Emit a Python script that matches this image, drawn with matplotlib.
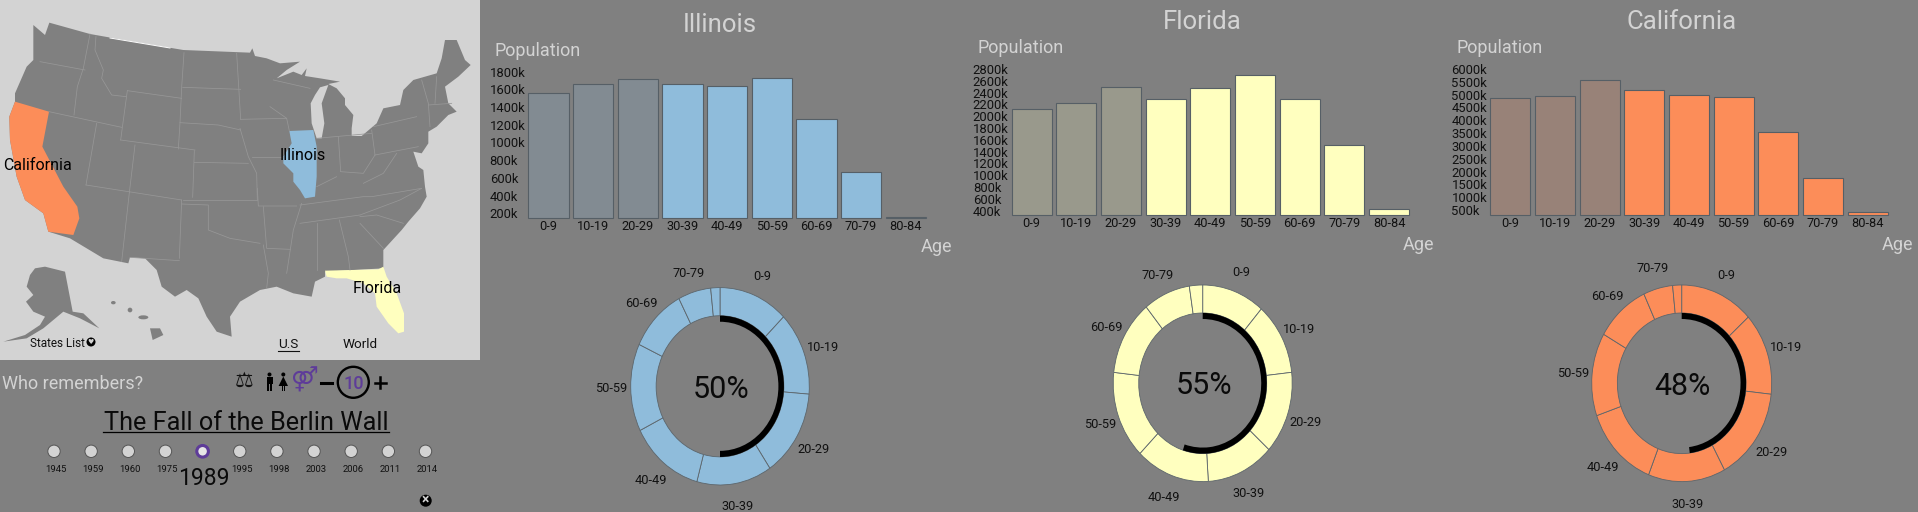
#!/usr/bin/env python3
"""Who remembers? dashboard: US map, age bars and memory donuts for three states."""

import matplotlib
matplotlib.use("Agg")
import matplotlib.pyplot as plt
from matplotlib.patches import Circle, Ellipse, Polygon, Rectangle

W, H = 1918, 512
BG = "#808080"
LIGHT = "#d3d3d3"
PURPLE = "#5e3c99"
MID = "center_baseline"

plt.rcParams["font.family"] = ["Roboto", "DejaVu Sans"]

# ── Data ───────────────────────────────────────────────────────────────────
age_groups = ["0-9", "10-19", "20-29", "30-39", "40-49", "50-59", "60-69", "70-79", "80-84"]
ring_labels = age_groups[:-1]

illinois_pop = [1556, 1658, 1722, 1665, 1642, 1733, 1270, 663, 162]
florida_pop = [2129, 2230, 2502, 2293, 2485, 2699, 2298, 1507, 423]
california_pop = [4882, 4934, 5585, 5168, 4973, 4921, 3543, 1761, 409]

illinois_ticks = [200, 400, 600, 800, 1000, 1200, 1400, 1600, 1800]
florida_ticks = [400, 600, 800, 1000, 1200, 1400, 1600, 1800, 2000, 2200, 2400, 2600, 2800]
california_ticks = [500, 1000, 1500, 2000, 2500, 3000, 3500, 4000, 4500, 5000, 5500, 6000]

illinois_ring = [45.4, 49.3, 51.6, 49.0, 48.5, 51.7, 37.6, 21.4, 6.0]
florida_ring = [40.9, 42.7, 48.8, 44.0, 48.1, 51.9, 44.5, 30.5, 8.6]
california_ring = [47.7, 48.7, 55.3, 49.9, 49.2, 49.1, 35.3, 19.0, 5.8]

remember_pct = [50, 55, 48]
years = [1945, 1959, 1960, 1975, 1989, 1995, 1998, 2003, 2006, 2011, 2014]
selected_year = 1989

# ── Map outlines, traced at 3x ─────────────────────────────────────────────
us_outline = [(148,68),(270,102),(400,125),(550,150),(750,158),(757,145),(765,168),(800,175),(840,190),
    (900,185),(860,210),(830,235),(880,215),(905,225),(920,205),(915,228),(960,235),(1020,245),(985,252),
    (1010,265),(1035,295),(1035,315),(1060,345),(1055,385),(1055,408),(1085,408),(1130,370),(1150,325),
    (1200,315),(1210,270),(1240,240),(1310,220),(1325,175),(1335,120),(1370,120),(1395,180),(1412,195),
    (1375,230),(1335,260),(1345,310),(1370,335),(1345,345),(1310,380),(1285,395),(1285,430),(1265,460),
    (1240,455),(1255,500),(1270,510),(1275,560),(1280,590),(1260,625),(1225,665),(1205,690),(1150,750),
    (1150,805),(975,815),(975,830),(945,845),(935,890),(880,880),(830,860),(780,870),(720,905),(690,950),
    (695,1010),(650,995),(620,950),(595,895),(560,870),(525,890),(485,860),(470,810),(435,775),(390,772),
    (385,790),(310,775),(210,715),(145,695),(130,640),(75,600),(50,530),(30,420),(28,350),(45,305),
    (45,280),(80,200),(100,180),(100,75),(135,105)]
lake_michigan = [(945,285),(932,310),(935,370),(950,415),(965,415),(973,370),(965,310),(985,255),(960,262)]
illinois_shape = [(868,393),(940,390),(950,440),(950,530),(945,590),(915,595),(900,570),(880,545),(880,520),
    (850,490),(850,470),(875,430)]
california_shape = [(45,305),(147,335),(127,440),(190,560),(232,620),(238,655),(220,705),(145,695),(130,640),
    (75,600),(50,530),(30,420),(28,350)]
florida_shape = [(975,812),(1135,808),(1150,800),(1160,830),(1190,880),(1212,940),(1212,995),(1195,1000),
    (1165,970),(1130,920),(1125,880),(1090,850),(1040,835),(1010,835),(980,830)]
alaska_shape = [(105,805),(135,800),(195,815),(218,935),(250,940),(298,985),(240,955),(190,935),(160,960),
    (130,985),(80,1015),(10,1025),(75,1005),(120,975),(135,950),(100,935),(78,905),(100,885),(80,860),(90,825)]
hawaii_shape = [(450,985),(480,985),(490,1005),(458,1020)]
hawaii_small = [(340,908,14,10),(390,930,14,14),(430,952,30,12)]
state_borders = [
    [(120,185),(255,210)], [(270,102),(250,205),(232,260),(222,345)], [(147,335),(365,382)],
    [(288,108),(285,150),(310,210),(305,235),(335,285),(378,290)], [(382,272),(545,295)],
    [(552,158),(545,262),(540,368),(535,447)], [(548,262),(722,268)], [(540,368),(655,375),(722,390)],
    [(382,272),(362,420)], [(362,420),(585,450)], [(405,435),(388,578)], [(583,452),(578,592)],
    [(583,487),(745,490)], [(290,370),(258,555)], [(258,555),(545,600)], [(388,578),(365,785)],
    [(545,600),(538,775)], [(390,772),(538,782)], [(545,612),(625,615),(625,690),(690,715),(780,730)],
    [(548,600),(772,600)], [(722,358),(860,355)], [(710,160),(722,358)], [(755,470),(850,470)],
    [(772,565),(775,618),(890,618)], [(720,385),(745,470),(770,520),(772,600)],
    [(790,620),(800,745),(870,748)], [(790,735),(805,820),(800,865)], [(950,670),(950,810)],
    [(1018,660),(1045,770),(1050,810)], [(900,615),(1090,590),(1115,590),(1265,565)],
    [(1015,410),(1022,515)], [(950,415),(1115,400)], [(1120,380),(1250,350)], [(1125,465),(1255,440)],
    [(1115,390),(1125,465)], [(1265,240),(1285,310),(1290,380)], [(1285,315),(1355,310)],
    [(900,670),(1080,645),(1200,600),(1265,565)], [(1080,650),(1130,645),(1210,670)],
    [(1080,670),(1150,745)], [(810,320),(860,355),(868,393)], [(820,240),(930,265)],
    [(1310,230),(1305,310)], [(1022,515),(1090,520),(1125,465)], [(905,610),(880,690),(860,820)],
    [(1090,550),(1150,520),(1190,460)], [(950,560),(1010,530)],
]


def px(points):
    return [(x / 3, y / 3) for x, y in points]


def add_px_axes(x0, y0, x1, y1):
    ax = fig.add_axes([x0 / W, 1 - y1 / H, (x1 - x0) / W, (y1 - y0) / H])
    ax.patch.set_alpha(0)
    return ax


fig = plt.figure(figsize=(W / 100, H / 100), dpi=100, facecolor=BG)
page = add_px_axes(0, 0, W, H)
page.set_xlim(0, W)
page.set_ylim(H, 0)
page.axis("off")

# ── Map panel ──────────────────────────────────────────────────────────────
page.add_patch(Rectangle((0, 0), 480, 359.5, facecolor=LIGHT, edgecolor="none"))
page.add_patch(Polygon(px(us_outline), facecolor=BG, edgecolor="none"))
page.add_patch(Polygon(px(lake_michigan), facecolor=LIGHT, edgecolor="none"))
page.add_patch(Polygon(px(alaska_shape), facecolor=BG, edgecolor="none"))
page.add_patch(Polygon(px(hawaii_shape), facecolor=BG, edgecolor="none"))
for x, y, w, h in hawaii_small:
    page.add_patch(Ellipse((x / 3, y / 3), w / 3, h / 3, facecolor=BG, edgecolor="none"))
for line in state_borders:
    xs, ys = zip(*px(line))
    page.plot(xs, ys, color="#979797", lw=0.55)
page.plot([110, 170], [38, 48], color="white", lw=0.7)
page.add_patch(Polygon(px(illinois_shape), facecolor="#8fbcdb", edgecolor="none"))
page.add_patch(Polygon(px(california_shape), facecolor="#fc8d59", edgecolor="none"))
page.add_patch(Polygon(px(florida_shape), facecolor="#ffffbf", edgecolor="none"))

page.text(3, 164, "California", fontsize=11.5, color="black", va=MID)
page.text(303, 154, "Illinois", fontsize=11.5, color="black", va=MID, ha="center")
page.text(377, 287, "Florida", fontsize=11.5, color="black", va=MID, ha="center")
page.text(30, 342, "States List", fontsize=8.5, color="#111111", va=MID)
page.add_patch(Circle((91, 342), 4.5, facecolor="black", edgecolor="none"))
page.text(91, 342, "♥", fontsize=5, color="#d3d3d3", ha="center", va="center", family="DejaVu Sans")
page.text(288, 343, "U.S", fontsize=9.7, color="#111111", ha="center", va=MID)
page.plot([277.5, 299], [351, 351], color="#111111", lw=0.8)
page.text(360, 343, "World", fontsize=9.7, color="#111111", ha="center", va=MID)

# ── Controls and timeline ──────────────────────────────────────────────────
page.text(2.5, 382, "Who remembers?", fontsize=13, color=LIGHT, va=MID)
page.text(244, 381, "⚖", fontsize=15, color="#111111", ha="center", va="center", family="DejaVu Sans")
# man and woman pictograms
page.add_patch(Circle((269.5, 374.5), 2, facecolor="black", edgecolor="none"))
page.add_patch(Rectangle((266.5, 377), 6, 7, facecolor="black", edgecolor="none"))
page.add_patch(Rectangle((267.3, 384), 1.9, 6.5, facecolor="black", edgecolor="none"))
page.add_patch(Rectangle((270, 384), 1.9, 6.5, facecolor="black", edgecolor="none"))
page.add_patch(Circle((283.3, 374.5), 2, facecolor="black", edgecolor="none"))
page.add_patch(Polygon([(283.3, 376.5), (288, 386), (278.6, 386)], facecolor="black", edgecolor="none"))
page.add_patch(Rectangle((281.5, 386), 1.4, 4.5, facecolor="black", edgecolor="none"))
page.add_patch(Rectangle((283.8, 386), 1.4, 4.5, facecolor="black", edgecolor="none"))
page.text(304.7, 380, "⚤", fontsize=17, color=PURPLE, ha="center", va="center", family="DejaVu Sans")
page.plot([321, 332], [382.5, 382.5], color="black", lw=2.2)
page.add_patch(Circle((353.3, 382.3), 15.5, facecolor="none", edgecolor="black", lw=1.7))
page.text(353.3, 382.3, "10", fontsize=13, color=PURPLE, ha="center", va=MID, fontweight="medium")
page.plot([375, 385.5], [382.5, 382.5], color="black", lw=1.8)
page.plot([380.2, 380.2], [377, 388], color="black", lw=1.8)

page.text(246, 420, "The Fall of the Berlin Wall", fontsize=18.2, color="#0a0a0a", ha="center", va=MID)
page.plot([103, 389], [432.3, 432.3], color="black", lw=0.9)

for i, year in enumerate(years):
    x = 54 + 37.15 * i
    if year == selected_year:
        page.add_patch(Circle((x, 451.3), 5.8, facecolor="#e6e6e6", edgecolor=PURPLE, lw=2.2, zorder=3))
        page.text(204, 476, str(year), fontsize=16.5, color="#0a0a0a", ha="center", va=MID, zorder=4)
    else:
        page.add_patch(Circle((x, 451.3), 6.2, facecolor=LIGHT, edgecolor="#555555", lw=0.7, zorder=3))
        page.text(x + 1.8, 469, str(year), fontsize=6.8, color="#111111", ha="center", va=MID)
page.add_patch(Circle((425.7, 500.7), 6, facecolor="black", edgecolor="none"))
page.text(425.7, 500.5, "×", fontsize=10, color=LIGHT, ha="center", va="center", fontweight="bold")


# ── State panels ───────────────────────────────────────────────────────────
def draw_bars(box, ylims, pop, ticks, colour):
    ax = add_px_axes(*box)
    bar_colours = [matplotlib.colors.to_rgba(colour, 0.2 if i < 3 else 1) for i in range(len(pop))]
    ax.bar(range(len(pop)), [p - ylims[0] for p in pop], width=0.9, bottom=ylims[0],
           color=bar_colours, edgecolor="#565f66", linewidth=0.8, clip_on=False)
    ax.set_xlim(-0.5, 8.5)
    ax.set_ylim(*ylims)
    for side in ax.spines.values():
        side.set_visible(False)
    ax.set_xticks(range(len(pop)), age_groups, fontsize=9.2, color="#111111")
    ax.set_yticks(ticks, [f"{t}k" for t in ticks], fontsize=9.4, color="#111111", ha="left")
    ax.tick_params(axis="x", length=0, pad=1.5)
    ax.tick_params(axis="y", length=0, pad=26.3)
    return ax


def draw_ring(cx, cy, rx, ry, ring, pct, colour, label_xy, pct_xy, off):
    ax = add_px_axes(cx - rx, cy - ry, cx + rx, cy + ry)
    ax.pie(ring, colors=[colour] * len(ring), startangle=90, counterclock=False, radius=1,
           wedgeprops=dict(width=0.285, edgecolor="#5d666c", linewidth=0.6))
    ax.pie([pct, 100 - pct], colors=["black", "none"], startangle=90, counterclock=False, radius=0.716,
           wedgeprops=dict(width=0.062, edgecolor="none"))
    ax.set_aspect("auto")
    ax.set_xlim(-1, 1)
    ax.set_ylim(-1, 1)
    for name, (x, y) in zip(ring_labels, label_xy):
        page.text(off + x / 3, 250 + y / 3, name, fontsize=9.2, color="#111111", ha="center", va=MID)
    page.text(off + pct_xy[0] / 3, 250 + pct_xy[1] / 3, f"{pct}%", fontsize=22, color="#0a0a0a",
              ha="center", va=MID, zorder=5)


illinois_labels = [(548,76),(728,287),(700,594),(472,765),(212,686),(93,412),(185,156),(325,65)]
florida_labels = [(543,62),(718,233),(738,512),(567,725),(312,738),(122,520),(140,228),(292,72)]
california_labels = [(558,72),(737,287),(696,603),(443,760),(188,647),(100,366),(203,134),(338,52)]

draw_bars((526.2, 60, 928.1, 218.3), (143, 1932), illinois_pop, illinois_ticks, "#8fbcdb")
draw_bars((1009.3, 60, 1411.4, 215.3), (321, 2954), florida_pop, florida_ticks, "#ffffbf")
draw_bars((1488, 60, 1890, 215.3), (292, 6352), california_pop, california_ticks, "#fc8d59")

draw_ring(720, 386.3, 89.3, 98.7, illinois_ring, remember_pct[0], "#8fbcdb", illinois_labels, (422, 408), 580)
draw_ring(1202.7, 383.3, 89.5, 98.3, florida_ring, remember_pct[1], "#ffffbf", florida_labels, (432, 398), 1060)
draw_ring(1681.7, 383.3, 90, 98.3, california_ring, remember_pct[2], "#fc8d59", california_labels, (428, 400), 1540)

for title, tx, ty, pop_x, pop_y, age_x, age_y in [
    ("Illinois", 720, 22.7, 495, 49.5, 936, 245.5),
    ("Florida", 1202.7, 19.3, 977.7, 46, 1418, 243),
    ("California", 1681.7, 19.3, 1456.7, 46, 1897, 243),
]:
    page.text(tx, ty, title, fontsize=18.5, color=LIGHT, ha="center", va=MID)
    page.text(pop_x, pop_y, "Population", fontsize=13, color=LIGHT, va=MID)
    page.text(age_x, age_y, "Age", fontsize=13, color=LIGHT, ha="center", va=MID)

# the Illinois panel cuts its Age label off at the edge
page.add_patch(Rectangle((952.5, 234), 6, 24, facecolor=BG, edgecolor="none", zorder=6))

fig.savefig("out.png", dpi=100, facecolor=BG)
